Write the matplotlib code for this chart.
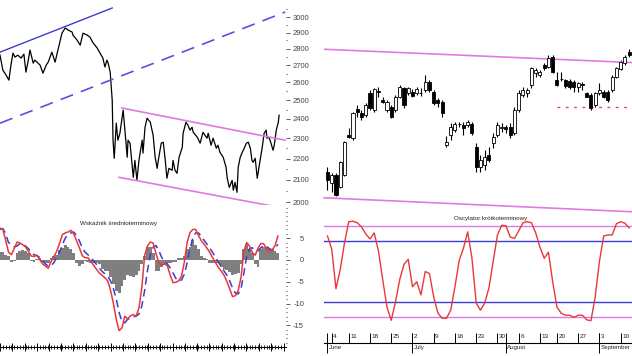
import matplotlib
matplotlib.use('Agg')
import matplotlib.pyplot as plt
import matplotlib.dates as mdates
from matplotlib.ticker import FixedLocator, MultipleLocator, NullFormatter
import pandas as pd

plt.rcParams['font.family'] = ['Liberation Sans', 'DejaVu Sans']

# ---------------- left chart (long term)
start = pd.Timestamp('2010-11-01')
price_days = [0, 7, 15, 22, 27, 32, 37, 44, 52, 59,
              64, 69, 74, 82, 86, 94, 99, 106, 114, 119,
              128, 136, 143, 153, 161, 168, 178, 180, 190, 198,
              205, 215, 222, 230, 240, 247, 254, 259, 264, 267,
              272, 277, 279, 282, 287, 291, 296, 304, 309, 314,
              316, 321, 329, 333, 338, 343, 351, 353, 358, 363,
              371, 378, 383, 388, 390, 398, 403, 408, 412, 417,
              425, 427, 432, 437, 442, 450, 452, 459, 464, 469,
              474, 477, 487, 494, 501, 511, 514, 521, 526, 534,
              538, 543, 551, 558, 561, 566, 573, 576, 580, 585,
              588, 593, 598, 603, 608, 613, 618, 622, 625, 630,
              635, 637, 642, 647, 652, 657, 659, 664, 669, 674,
              677, 682, 687, 689]
price_vals = [2760, 2671, 2642, 2613, 2700, 2772, 2748, 2760, 2742, 2766,
              2659, 2718, 2791, 2712, 2730, 2712, 2700, 2653, 2700, 2718,
              2778, 2718, 2791, 2896, 2929, 2916, 2903, 2884, 2853, 2821,
              2896, 2884, 2871, 2834, 2803, 2772, 2742, 2689, 2730, 2712,
              2659, 2501, 2291, 2202, 2378, 2291, 2326, 2447, 2326, 2207,
              2291, 2276, 2112, 2192, 2098, 2192, 2291, 2227, 2357, 2404,
              2383, 2316, 2207, 2154, 2183, 2276, 2281, 2192, 2108, 2154,
              2145, 2192, 2145, 2131, 2207, 2256, 2326, 2383, 2367, 2342,
              2357, 2331, 2306, 2276, 2331, 2301, 2326, 2266, 2301, 2251,
              2266, 2231, 2207, 2159, 2108, 2066, 2098, 2053, 2089, 2044,
              2159, 2207, 2231, 2251, 2276, 2281, 2251, 2192, 2183, 2202,
              2108, 2131, 2192, 2251, 2326, 2342, 2301, 2306, 2276, 2241,
              2266, 2342, 2383, 2420]

# weekly indicator ("Wskaznik srednioterminowy")
macd = [7.3, 7.0, 4.5, 1.8, 1.2, 2.6, 4.1, 3.9, 3.5, 3.0,
        2.0, 0.9, 0.8, 1.1, 0.1, -0.9, -1.4, -1.9, -0.4, 0.8,
        2.0, 3.8, 5.8, 6.2, 6.4, 6.8, 6.0, 4.4, 2.8, 1.0,
        0.5, 0.5, -0.3, -1.2, -2.1, -3.0, -3.5, -4.1, -4.8, -7.0,
        -10.0, -13.6, -16.2, -15.6, -12.9, -13.5, -12.8, -12.5, -12.9, -11.0,
        -6.4, 1.0, 3.2, 4.1, 3.9, 1.5, -0.6, -1.2, -0.9, -1.3,
        -3.4, -5.2, -5.1, -4.8, -3.7, -0.5, 4.0, 6.3, 7.0, 7.0,
        5.6, 4.4, 3.6, 2.7, 1.7, 0.5, -0.6, -1.7, -2.5, -3.5,
        -4.9, -6.6, -8.4, -8.2, -7.0, -4.0, 2.0, 4.0, 3.2, 1.7,
        1.1, 2.7, 3.8, 3.7, 2.6, 1.9, 2.3, 3.3, 5.5]
signal = [7.0, 7.2, 6.0, 4.0, 3.5, 3.0, 3.2, 3.7, 3.6, 3.2,
          2.6, 1.8, 1.2, 1.0, 0.6, -0.2, -0.9, -1.4, -1.4, -0.6,
          0.6, 1.8, 3.5, 5.0, 5.8, 6.2, 6.4, 5.6, 4.4, 2.8,
          1.8, 1.2, 0.6, -0.2, -1.0, -1.9, -2.6, -3.2, -3.8, -4.8,
          -6.6, -9.0, -12.0, -14.2, -14.4, -13.6, -13.4, -13.0, -12.9, -12.4,
          -10.6, -7.0, -2.5, 1.2, 2.9, 3.3, 2.2, 0.6, -0.4, -0.9,
          -1.8, -3.0, -4.2, -4.8, -4.6, -3.3, -0.6, 2.6, 5.0, 6.2,
          6.2, 5.4, 4.5, 3.6, 2.7, 1.7, 0.6, -0.5, -1.5, -2.5,
          -3.5, -4.8, -6.4, -7.6, -7.8, -6.6, -3.0, 0.8, 2.6, 2.8,
          2.1, 2.1, 2.8, 3.3, 3.1, 2.6, 2.3, 2.6, 3.6]
hist = [1.8, 1.8, 1.2, 1.0, -0.4, -0.3, 1.5, 2.0, 2.3, 2.0,
        1.5, -0.3, -0.5, 0.3, 0.5, -0.5, -0.8, -0.6, 0.5, 1.0,
        1.2, 2.3, 2.8, 3.4, 3.0, 2.5, 1.5, -0.8, -1.4, -1.0,
        -0.3, -0.5, -0.6, -0.8, -0.8, -1.0, -2.0, -2.5, -2.6, -4.0,
        -5.5, -7.0, -7.6, -6.0, -4.5, -3.4, -3.6, -4.0, -3.5, -2.5,
        -1.0, 1.0, 3.0, 3.0, 1.5, -2.5, -2.5, -1.5, -1.2, -0.8,
        -0.6, -0.5, -0.5, 0.4, 0.5, 1.0, 2.5, 3.0, 4.6, 3.5,
        2.5, 0.8, 0.5, 0.3, -0.6, -0.7, -0.7, -0.8, -1.5, -2.0,
        -2.3, -2.8, -3.4, -3.2, -3.0, -1.0, 2.5, 3.6, 2.5, 1.5,
        -1.0, -1.6, 2.5, 3.0, 3.0, 2.5, 2.5, 2.0, 1.5]

# trend lines: (day offsets, values)
up_solid = ([0, 277], [2778, 3060])
up_dashed = ([0, 704], [2378, 3033])
chan_top = ([301, 704], [2458, 2291])
chan_bot = ([294, 704], [2112, 1973])

price_ticks = list(range(2000, 3001, 100))
ind_ticks = [5, 0, -5, -10, -15]

# ---------------- right chart (daily candles, June - September 2012)
holidays = ['2012-06-07', '2012-08-15']
opens = [2103, 2072, 2095, 2063, 2095, 2203, 2194, 2274, 2261, 2257,
         2315, 2270, 2320, 2297, 2270, 2279, 2270, 2306, 2329, 2315,
         2319, 2317, 2317, 2324, 2346, 2319, 2297, 2292, 2176, 2203,
         2216, 2231, 2230, 2230, 2232, 2171, 2117, 2122, 2148, 2180,
         2202, 2222, 2223, 2225, 2207, 2270, 2310, 2315, 2338, 2369,
         2365, 2392, 2387, 2414, 2351, 2355, 2351, 2349, 2346, 2333,
         2339, 2315, 2310, 2283, 2315, 2319, 2319, 2324, 2360, 2382,
         2396, 2427]
closes = [2081, 2094, 2040, 2130, 2184, 2198, 2261, 2265, 2252, 2284,
          2275, 2326, 2318, 2292, 2292, 2252, 2306, 2333, 2284, 2329,
          2308, 2326, 2315, 2346, 2324, 2288, 2288, 2261, 2184, 2225,
          2232, 2233, 2221, 2238, 2207, 2117, 2135, 2144, 2135, 2198,
          2230, 2224, 2220, 2203, 2270, 2315, 2324, 2324, 2383, 2378,
          2373, 2383, 2410, 2373, 2338, 2353, 2335, 2333, 2333, 2342,
          2337, 2306, 2275, 2315, 2324, 2306, 2297, 2360, 2383, 2400,
          2414, 2418]
highs = [2117, 2099, 2099, 2133, 2187, 2221, 2265, 2284, 2270, 2288,
         2324, 2329, 2333, 2306, 2297, 2284, 2311, 2338, 2333, 2333,
         2326, 2333, 2329, 2364, 2351, 2324, 2302, 2297, 2200, 2234,
         2238, 2238, 2238, 2243, 2238, 2180, 2148, 2162, 2171, 2207,
         2238, 2234, 2230, 2234, 2279, 2324, 2333, 2329, 2387, 2383,
         2378, 2396, 2419, 2419, 2373, 2373, 2355, 2353, 2351, 2346,
         2346, 2319, 2315, 2319, 2342, 2324, 2324, 2364, 2387, 2405,
         2419, 2434]
lows = [2054, 2049, 2038, 2060, 2092, 2194, 2189, 2252, 2243, 2252,
        2270, 2265, 2306, 2288, 2265, 2248, 2265, 2302, 2275, 2311,
        2304, 2311, 2308, 2319, 2319, 2284, 2279, 2252, 2169, 2189,
        2211, 2225, 2203, 2225, 2203, 2103, 2103, 2108, 2130, 2167,
        2198, 2211, 2207, 2194, 2203, 2265, 2306, 2306, 2329, 2360,
        2360, 2378, 2383, 2369, 2335, 2349, 2330, 2327, 2319, 2319,
        2324, 2304, 2270, 2279, 2310, 2302, 2292, 2319, 2356, 2378,
        2392, 2414]
# oscillator ("Oscylator krotkoterminowy")
osc = [85, 72, 33, 52, 78, 99, 99.5, 98, 94, 87,
       82, 88, 70, 42, 15, 2, 20, 42, 57, 62,
       35, 40, 27, 50, 48, 25, 9, 4, 4, 12,
       35, 61, 73, 89, 63, 19, 12, 19, 34, 60,
       86, 95.5, 95, 84, 82.5, 90, 98, 99, 98, 88,
       74, 63, 69, 40, 15, 9, 7, 7, 5, 7,
       7, 2.5, 1.6, 25, 60, 85, 86, 86, 97, 99,
       97.5, 93]
osc_outer = [95, 5]
osc_inner = [80, 20]
r_top = ([-0.8, 75.9], [2434, 2396])
r_bot = ([-0.8, 75.9], [2033, 1993])
support = 2279
support_from = 54

PINK = '#e07ae0'
BLUE = '#3c3cd0'
RED = '#e8383a'
GREY = '#444444'
TXT = '#222222'

W, H = 632, 356


def box(x0, y0, x1, y1):
    return [x0 / W, 1 - y1 / H, (x1 - x0) / W, (y1 - y0) / H]


fig = plt.figure(figsize=(6.32, 3.56), dpi=100)
ax1 = fig.add_axes(box(0, 0, 286, 205))
ax2 = fig.add_axes(box(0, 205, 286, 347))
ax3 = fig.add_axes(box(324, 0, 650, 215))
ax4 = fig.add_axes(box(324, 215, 650, 342.7))
for ax in (ax1, ax2, ax3, ax4):
    for s in ax.spines.values():
        s.set_visible(False)
    ax.patch.set_alpha(0)

# ---- left price panel
day = lambda d: start + pd.to_timedelta(d, unit='D')
ax1.plot(day(price_days), price_vals, color='black', lw=0.9)
ax1.plot(day(up_solid[0]), up_solid[1], color=BLUE, lw=1.0)
ax1.plot(day(up_dashed[0]), up_dashed[1], color='#5a50e0', lw=1.2, dashes=(8, 5))
ax1.plot(day(chan_top[0]), chan_top[1], color=PINK, lw=1.2)
ax1.plot(day(chan_bot[0]), chan_bot[1], color=PINK, lw=1.2)
ax1.set_yscale('log')
ax1.set_ylim(1988, 3114)
ax1.set_xlim(start, day(706))
ax1.yaxis.tick_right()
ax1.set_yticks(price_ticks)
ax1.set_yticklabels([str(t) for t in price_ticks])
ax1.yaxis.set_minor_locator(FixedLocator([t + 50 for t in price_ticks]))
ax1.yaxis.set_minor_formatter(NullFormatter())
ax1.tick_params(axis='y', which='major', direction='out', length=3, width=0.6,
                pad=1.5, labelsize=5.5, colors=GREY)
ax1.tick_params(axis='y', which='minor', direction='out', length=1, width=0.8, colors=GREY)
ax1.tick_params(axis='x', which='both', bottom=False, labelbottom=False)

# ---- left indicator panel
weeks = pd.date_range(start, periods=len(macd), freq='7D')
ax2.bar(weeks, hist, width=7, color='#7f7f7f', linewidth=0, zorder=1)
ax2.plot(weeks, macd, color=RED, lw=1.1, zorder=3)
ax2.plot(weeks, signal, color=BLUE, lw=1.1, dashes=(5, 3), zorder=2)
ax2.set_xlim(start, day(706))
ax2.set_ylim(-19.95, 12.6)
ax2.yaxis.tick_right()
ax2.set_yticks(ind_ticks)
ax2.set_yticklabels([str(t) for t in ind_ticks])
for lab in ax2.get_yticklabels():
    lab.set_horizontalalignment('right')
ax2.yaxis.set_minor_locator(MultipleLocator(1))
ax2.tick_params(axis='y', which='major', direction='out', length=3, width=0.6,
                pad=10, labelsize=5.5, colors=GREY)
ax2.tick_params(axis='y', which='minor', direction='out', length=1, width=0.8, colors=GREY)
ax2.spines['bottom'].set_visible(True)
ax2.spines['bottom'].set_linewidth(0.7)
ax2.xaxis.set_major_locator(mdates.MonthLocator())
ax2.xaxis.set_minor_locator(mdates.WeekdayLocator(byweekday=mdates.MO))
ax2.tick_params(axis='x', which='major', direction='inout', length=6, width=0.7,
                labelbottom=False)
ax2.tick_params(axis='x', which='minor', direction='inout', length=3, width=0.6)
ax2.text(0.413, 0.871, 'Wskaźnik średnioterminowy', transform=ax2.transAxes,
         ha='center', va='center', fontsize=4.5, color=TXT)

# ---- right candle panel
days = pd.bdate_range('2012-06-01', '2012-09-12')
days = days[~days.isin(pd.to_datetime(holidays))]
idx = list(range(len(days)))
ax3.vlines(idx, lows, highs, color='black', lw=0.8, zorder=2)
for i, o, c in zip(idx, opens, closes):
    up = c >= o
    ax3.bar(i, max(abs(c - o), 2), bottom=min(o, c), width=0.72,
            color='white' if up else 'black', edgecolor='black', linewidth=0.6, zorder=3)
ax3.plot(r_top[0], r_top[1], color=PINK, lw=1.2)
ax3.plot(r_bot[0], r_bot[1], color=PINK, lw=1.2, clip_on=False)
ax3.hlines(support, support_from, r_top[0][1], color='#e04848', lw=1.0,
           linestyles=(0, (2, 4)))
ax3.set_xlim(-0.82, 75.9)
ax3.set_ylim(1986.5, 2567)
ax3.set_xticks([])
ax3.set_yticks([])

# ---- right oscillator panel
for v in osc_outer:
    ax4.axhline(v, color=PINK, lw=1.0)
for v in osc_inner:
    ax4.axhline(v, color=BLUE, lw=1.0)
ax4.plot(idx, osc, color=RED, lw=1.0)
ax4.set_xlim(-0.82, 75.9)
ax4.set_ylim(-20, 105.6)
ax4.set_yticks([])
ax4.spines['bottom'].set_visible(True)
ax4.spines['bottom'].set_linewidth(0.8)
mondays = [i for i in idx if days[i].dayofweek == 0]
month_first = [i for i in idx if i == 0 or days[i].month != days[i - 1].month]
ax4.xaxis.remove_overlapping_locs = False
ax4.set_xticks(mondays)
ax4.set_xticklabels([])
ax4.set_xticks(month_first, minor=True)
ax4.tick_params(axis='x', which='major', direction='in', length=7, width=0.7)
ax4.tick_params(axis='x', which='minor', direction='inout', length=14, width=0.7)
for i in mondays:
    ax4.annotate(str(days[i].day), xy=(i, 0), xycoords=('data', 'axes fraction'),
                 xytext=(1.5, 6), textcoords='offset pixels', ha='left', va='center',
                 fontsize=4.6, color=TXT)
for i in month_first:
    ax4.annotate(days[i].strftime('%B'), xy=(i, 0), xycoords=('data', 'axes fraction'),
                 xytext=(1.5, -4.5), textcoords='offset pixels', ha='left', va='center',
                 fontsize=4.4, color=TXT)
ax4.text(0.512, 0.974, 'Oscylator krótkoterminowy', transform=ax4.transAxes,
         ha='center', va='center', fontsize=4.5, color=TXT)

fig.savefig('out.png', dpi=100)
